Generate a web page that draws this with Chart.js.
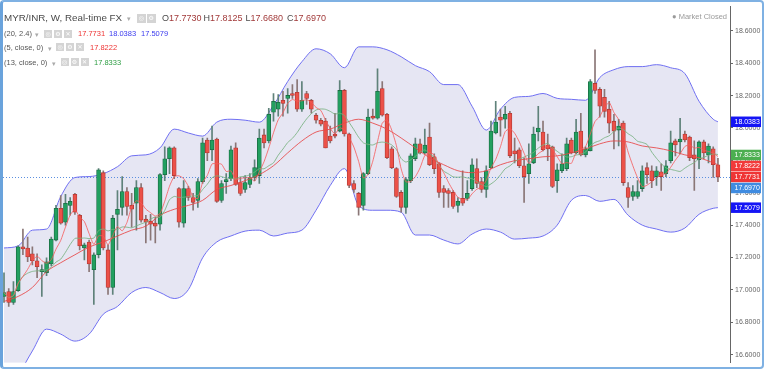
<!DOCTYPE html>
<html><head><meta charset="utf-8">
<script src="https://cdn.jsdelivr.net/npm/chart.js@4.4.0/dist/chart.umd.min.js"></script>
<style>
html,body{margin:0;padding:0;background:#fff;}
#wrap{position:relative;width:764px;height:369px;overflow:hidden;font-family:"Liberation Sans",Arial,sans-serif;background:#fff;}
#frame{position:absolute;left:0;top:0;width:764px;height:369px;box-sizing:border-box;border:2px solid #7fb1e3;border-left:3px solid #6aa3dc;border-radius:4px;pointer-events:none;}
canvas{position:absolute;left:0;top:0;}
.t{position:absolute;white-space:nowrap;line-height:1;}
.l1{font-size:9.8px;color:#4a4a4a;top:13px;}
.l1b{font-size:9px;color:#4a4a4a;top:13.5px;}
.s{font-size:7.5px;color:#555;}
.dd{position:absolute;font-size:7px;color:#aaa;line-height:1;}
.ic{position:absolute;background:#d4d4d4;color:#fff;text-align:center;font-family:"DejaVu Sans",sans-serif;font-size:6px;line-height:8px;width:8px;height:8px;}
</style></head>
<body><div id="wrap">
<canvas id="c" width="764" height="369"></canvas>

<div class="t l1" style="left:4px;">MYR/INR, W, Real-time FX</div>
<div class="dd" style="left:127px;top:15px;">▾</div>
<div class="ic" style="left:137px;top:14px;width:8.5px;height:8.5px;">◎</div>
<div class="ic" style="left:147px;top:14px;width:8.5px;height:8.5px;">⚙</div>
<div class="t l1b" style="left:162px;">O<span style="color:#a23b3b">17.7730</span></div>
<div class="t l1b" style="left:203.5px;">H<span style="color:#a23b3b">17.8125</span></div>
<div class="t l1b" style="left:245.5px;">L<span style="color:#a23b3b">17.6680</span></div>
<div class="t l1b" style="left:287px;">C<span style="color:#a23b3b">17.6970</span></div>

<div class="t s" style="left:4px;top:30px;">(20, 2.4)</div>
<div class="dd" style="left:35px;top:31px;">▾</div>
<div class="ic" style="left:44px;top:29.5px;">◎</div>
<div class="ic" style="left:54px;top:29.5px;">⚙</div>
<div class="ic" style="left:64px;top:29.5px;">✕</div>
<div class="t s" style="left:78px;top:30px;color:#ee3333;">17.7731</div>
<div class="t s" style="left:109px;top:30px;color:#3a3aee;">18.0383</div>
<div class="t s" style="left:141px;top:30px;color:#3a3aee;">17.5079</div>

<div class="t s" style="left:4px;top:43.5px;">(5, close, 0)</div>
<div class="dd" style="left:48px;top:44.5px;">▾</div>
<div class="ic" style="left:56px;top:43px;">◎</div>
<div class="ic" style="left:66px;top:43px;">⚙</div>
<div class="ic" style="left:76px;top:43px;">✕</div>
<div class="t s" style="left:90px;top:43.5px;color:#ee3333;">17.8222</div>

<div class="t s" style="left:4px;top:58.5px;">(13, close, 0)</div>
<div class="dd" style="left:52px;top:59.5px;">▾</div>
<div class="ic" style="left:60.5px;top:57.5px;">◎</div>
<div class="ic" style="left:70.5px;top:57.5px;">⚙</div>
<div class="ic" style="left:80.5px;top:57.5px;">✕</div>
<div class="t s" style="left:94px;top:58.5px;color:#2e9e44;">17.8333</div>

<div class="t" style="right:37px;top:13px;font-size:7.5px;color:#9a9a9a;">● Market Closed</div>
<div id="frame"></div>
</div>
<script>
const open=[16.960,16.990,16.923,16.996,17.266,17.259,17.223,17.180,17.113,17.106,17.161,17.308,17.504,17.418,17.522,17.590,17.461,17.259,17.296,17.125,17.217,17.724,17.247,17.015,17.467,17.510,17.608,17.522,17.535,17.632,17.437,17.424,17.412,17.406,17.712,17.810,17.877,17.626,17.412,17.626,17.571,17.553,17.669,17.926,17.865,17.932,17.553,17.669,17.687,17.877,17.663,17.620,17.651,17.694,17.706,17.957,17.920,18.097,18.116,18.171,18.183,18.213,18.220,18.116,18.213,18.171,18.079,18.048,18.042,17.950,17.963,17.981,18.232,17.963,17.657,17.596,17.522,17.718,18.073,18.060,18.244,18.085,17.871,17.749,17.602,17.510,17.675,17.810,17.902,17.846,17.944,17.822,17.779,17.626,17.614,17.602,17.522,17.565,17.565,17.626,17.749,17.669,17.620,17.755,17.969,18.067,18.054,18.091,17.859,17.865,17.767,17.718,17.785,17.975,17.975,17.895,17.883,17.675,17.736,17.749,17.926,17.846,17.981,17.834,17.859,18.275,18.238,18.189,18.116,18.042,17.987,18.030,17.632,17.577,17.577,17.626,17.755,17.736,17.700,17.730,17.718,17.798,17.920,17.914,17.963,17.944,17.834,17.804,17.914,17.834,17.871,17.773];
const high=[17.106,17.009,17.051,17.272,17.375,17.327,17.266,17.223,17.155,17.198,17.327,17.522,17.583,17.590,17.571,17.596,17.467,17.290,17.308,17.229,17.749,17.736,17.278,17.461,17.614,17.700,17.632,17.596,17.675,17.657,17.461,17.467,17.449,17.718,17.883,17.883,17.883,17.632,17.675,17.639,17.596,17.687,17.938,17.938,18.012,17.938,17.675,17.718,17.889,17.908,17.694,17.706,17.718,17.804,17.993,17.993,18.121,18.213,18.207,18.226,18.244,18.268,18.299,18.287,18.226,18.177,18.091,18.060,18.060,18.012,18.091,18.293,18.238,17.969,17.675,17.602,17.724,18.116,18.116,18.366,18.287,18.091,17.883,17.755,17.614,17.694,17.840,17.938,17.932,17.993,18.030,17.840,17.785,17.645,17.626,17.614,17.571,17.736,17.675,17.810,17.810,17.694,17.767,18.042,18.165,18.116,18.134,18.103,17.938,17.877,17.816,17.902,18.005,18.134,18.042,17.963,17.889,17.779,17.840,17.938,17.938,18.054,18.091,17.883,18.299,18.483,18.250,18.238,18.165,18.085,18.054,18.042,17.663,17.645,17.675,17.767,17.785,17.767,17.761,17.779,17.798,17.981,17.932,18.060,17.981,17.950,17.920,17.920,17.926,17.902,17.883,17.8125];
const low=[16.923,16.898,16.911,16.990,17.217,17.174,17.155,17.076,16.960,17.088,17.149,17.302,17.406,17.400,17.461,17.467,17.247,17.186,17.113,16.911,17.198,17.247,16.972,16.972,17.247,17.461,17.461,17.388,17.369,17.418,17.290,17.308,17.290,17.369,17.675,17.718,17.687,17.388,17.388,17.553,17.492,17.510,17.657,17.798,17.798,17.541,17.541,17.596,17.675,17.645,17.583,17.602,17.632,17.675,17.657,17.877,17.908,18.042,18.073,18.073,18.091,18.183,18.103,18.103,18.146,18.091,18.030,18.012,17.877,17.908,17.938,17.975,17.950,17.632,17.602,17.461,17.492,17.712,18.054,18.054,18.073,17.810,17.749,17.571,17.480,17.473,17.663,17.798,17.840,17.840,17.767,17.718,17.571,17.510,17.510,17.504,17.480,17.522,17.553,17.614,17.632,17.602,17.571,17.749,17.963,17.950,17.999,17.816,17.785,17.755,17.541,17.657,17.779,17.920,17.859,17.798,17.632,17.602,17.724,17.736,17.840,17.840,17.828,17.822,17.859,18.213,18.067,18.067,17.969,17.871,17.889,17.645,17.510,17.553,17.565,17.608,17.657,17.632,17.645,17.614,17.700,17.785,17.828,17.840,17.914,17.798,17.614,17.749,17.810,17.785,17.694,17.668];
const close=[16.984,16.923,16.990,17.266,17.253,17.204,17.180,17.143,17.125,17.174,17.314,17.504,17.412,17.535,17.547,17.480,17.272,17.278,17.161,17.217,17.742,17.259,17.015,17.443,17.498,17.608,17.516,17.498,17.632,17.431,17.418,17.406,17.394,17.712,17.810,17.877,17.706,17.418,17.626,17.571,17.541,17.669,17.908,17.846,17.926,17.547,17.657,17.681,17.865,17.651,17.596,17.663,17.694,17.755,17.938,17.908,18.085,18.165,18.158,18.152,18.201,18.201,18.116,18.171,18.183,18.116,18.048,18.024,17.877,17.920,17.950,18.232,17.963,17.645,17.620,17.510,17.718,18.067,18.060,18.226,18.079,17.816,17.755,17.577,17.510,17.681,17.828,17.902,17.846,17.895,17.773,17.749,17.602,17.602,17.596,17.516,17.547,17.535,17.596,17.773,17.657,17.620,17.736,17.981,18.036,18.048,18.085,17.828,17.840,17.767,17.700,17.779,17.963,17.999,17.865,17.871,17.639,17.742,17.779,17.902,17.846,17.975,17.834,17.871,18.287,18.232,18.134,18.103,18.030,17.981,18.012,17.663,17.571,17.608,17.608,17.736,17.712,17.675,17.736,17.700,17.767,17.908,17.895,17.932,17.926,17.816,17.810,17.914,17.846,17.889,17.773,17.697];

const bandIdx=[0,3,6,9,12,15,18,21,24,27,30,33,36,39,42,45,48,51,54,57,60,63,66,69,72,75,78,81,84,87,90,93,96,99,102,105,108,111,114,117,120,123,126,129,132,135,138,141,144,147,150,151];
const bbUpper=[17.259,17.272,17.369,17.376,17.577,17.694,17.700,17.718,17.761,17.828,17.834,17.877,17.993,17.969,17.950,18.036,18.054,18.048,18.036,18.140,18.287,18.409,18.489,18.458,18.372,18.501,18.501,18.483,18.440,18.385,18.348,18.268,18.268,18.134,17.987,18.116,18.189,18.195,18.213,18.183,18.177,18.171,18.311,18.360,18.379,18.379,18.391,18.372,18.336,18.165,18.054,18.038];
const bbLower=[16.391,16.477,16.623,16.758,16.727,16.684,16.727,16.850,16.898,16.984,17.015,16.984,16.947,17.002,17.198,17.296,17.333,17.363,17.369,17.333,17.351,17.369,17.492,17.645,17.749,17.522,17.492,17.492,17.480,17.339,17.339,17.308,17.284,17.345,17.376,17.357,17.314,17.320,17.333,17.400,17.553,17.583,17.547,17.559,17.461,17.400,17.376,17.357,17.382,17.467,17.504,17.508];
const bbBasis=[16.929,16.960,17.015,17.113,17.168,17.217,17.265,17.296,17.333,17.369,17.394,17.461,17.498,17.522,17.553,17.620,17.645,17.675,17.712,17.767,17.846,17.920,17.975,17.993,18.030,18.054,18.030,17.993,17.938,17.877,17.816,17.773,17.736,17.724,17.736,17.773,17.798,17.810,17.822,17.828,17.846,17.871,17.902,17.920,17.914,17.889,17.877,17.859,17.834,17.816,17.785,17.773];

const yTicks=[16.6,16.8,17.0,17.2,17.4,17.6,17.8,18.0,18.2,18.4,18.6];
const tagValues=[18.0383,17.8333,17.8222,17.7731,17.6970,17.5079];
const tagColors=['#1515f5','#4caf50','#f23a3a','#ef3535','#3f8be0','#1515f5'];
const lastClose=17.6970;

const up=close.map((c,i)=>c>=open[i]);
function sma(n){
  return close.map((_,i)=>{const s=Math.max(0,i-n+1);let t=0;for(let j=s;j<=i;j++)t+=close[j];return {x:i,y:t/(i-s+1)};});
}
const pts=(arr)=>arr.map((v,k)=>({x:bandIdx[k],y:v}));

const dotPlugin={id:'dotline',beforeDatasetsDraw(chart){
  const ctx=chart.ctx,a=chart.chartArea,y=chart.scales.y.getPixelForValue(lastClose);
  ctx.save();ctx.strokeStyle='#5b8fe0';ctx.lineWidth=1;ctx.setLineDash([1,2]);
  ctx.beginPath();ctx.moveTo(a.left,Math.round(y)+0.5);ctx.lineTo(a.right,Math.round(y)+0.5);ctx.stroke();ctx.restore();
}};
const tagPlugin={id:'tags',afterDraw(chart){
  const ctx=chart.ctx,ys=chart.scales.y;let prev=-1e9;const h=11;
  ctx.save();ctx.font='7px "Liberation Sans", Arial, sans-serif';ctx.textBaseline='middle';
  tagValues.forEach((v,k)=>{
    const y=Math.max(ys.getPixelForValue(v),prev+h);prev=y;
    ctx.fillStyle=tagColors[k];ctx.fillRect(731,y-5.25,30,10.5);
    ctx.fillStyle='#fff';ctx.fillText(v.toFixed(4),734.5,y+0.5);
  });
  ctx.restore();
}};

new Chart(document.getElementById('c'),{
  type:'bar',
  data:{datasets:[
    {type:'bar',data:close.map((c,i)=>({x:i,y:[low[i],high[i]]})),barThickness:1,grouped:false,
     backgroundColor:up.map(u=>u?'#5f827a':'#8a7676'),borderWidth:0,order:6},
    {type:'bar',data:close.map((c,i)=>({x:i,y:[open[i],c]})),barThickness:4,grouped:false,minBarLength:1,
     backgroundColor:up.map(u=>u?'#22a060':'#ec5148'),borderColor:up.map(u=>u?'#1a6b42':'#b23a35'),
     borderWidth:0.8,borderSkipped:false,order:5},
    {type:'line',data:pts(bbUpper),borderColor:'#7070f2',borderWidth:1,pointRadius:0,cubicInterpolationMode:'monotone',
     fill:{target:'+1'},backgroundColor:'rgba(205,205,232,0.5)',order:8},
    {type:'line',data:pts(bbLower),borderColor:'#7070f2',borderWidth:1,pointRadius:0,cubicInterpolationMode:'monotone',fill:false,order:8},
    {type:'line',data:pts(bbBasis),borderColor:'rgba(232,70,70,0.85)',borderWidth:1,pointRadius:0,cubicInterpolationMode:'monotone',fill:false,order:2},
    {type:'line',data:sma(13),borderColor:'rgba(120,178,128,0.85)',borderWidth:1,pointRadius:0,tension:0.2,fill:false,order:1},
    {type:'line',data:sma(5),borderColor:'rgba(246,90,90,0.8)',borderWidth:1,pointRadius:0,tension:0.2,fill:false,order:0}
  ]},
  options:{
    responsive:false,animation:false,devicePixelRatio:1,
    layout:{padding:{left:3,top:4,bottom:5,right:0}},
    plugins:{legend:{display:false},tooltip:{enabled:false},filler:{drawTime:'beforeDatasetsDraw'}},
    scales:{
      x:{type:'linear',display:false,offset:false,min:-0.2115,max:153.55},
      y:{position:'right',min:16.55,max:18.752,
        afterBuildTicks:(s)=>{s.ticks=yTicks.map(v=>({value:v}));},
        afterFit:(s)=>{s.width=34;},
        ticks:{callback:(v)=>Number(v).toFixed(4),color:'#666',padding:2,font:{size:7,family:'"Liberation Sans", Arial, sans-serif'}},
        grid:{drawOnChartArea:false,drawTicks:true,tickLength:3,color:'#666'},
        border:{display:true,color:'#666'}
      }
    }
  },
  plugins:[dotPlugin,tagPlugin]
});
</script>
</body></html>
